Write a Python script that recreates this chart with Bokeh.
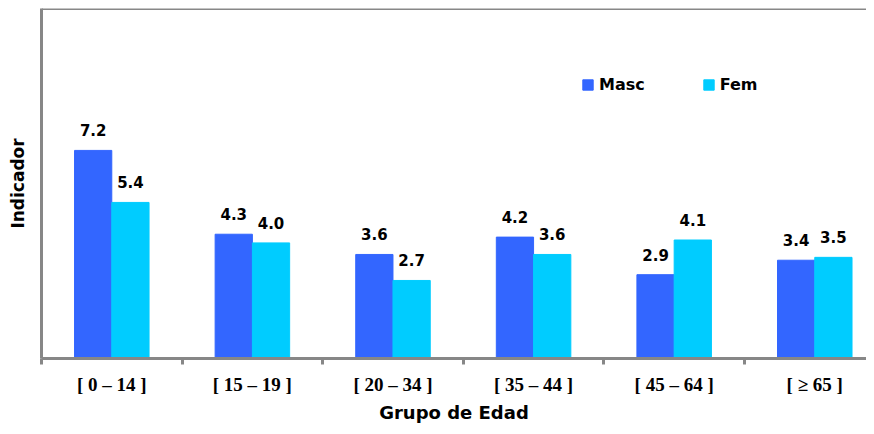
import numpy as np
from bokeh.plotting import figure
from bokeh.models import (Range1d, FixedTicker, Span, Legend, LegendItem,
                          ColumnDataSource)
from bokeh.transform import dodge
from bokeh.core.properties import value
from bokeh.embed import file_html
from bokeh.resources import INLINE

# ---- data ----
categories = ["[ 0 \u2013 14 ]", "[ 15 \u2013 19 ]", "[ 20 \u2013 34 ]",
              "[ 35 \u2013 44 ]", "[ 45 \u2013 64 ]", "[ \u2265 65 ]"]
masc = [7.2, 4.3, 3.6, 4.2, 2.9, 3.4]
fem = [5.4, 4.0, 2.7, 3.6, 4.1, 3.5]

# ---- styling ----
MASC_COLOR = "#3366FF"
FEM_COLOR = "#00CCFF"
AXIS_GRAY = "#878787"
SANS = "DejaVu Sans"
SERIF = "Liberation Serif"
BAR_W = 0.265
Y_END = 12.11
X_END = 5.868

centers = np.arange(len(categories)) + 0.5
source = ColumnDataSource(dict(
    x=centers,
    masc=masc,
    fem=fem,
    masc_lbl=[f"{v:.1f}" for v in masc],
    fem_lbl=[f"{v:.1f}" for v in fem],
))

p = figure(width=866, height=426,
           x_range=Range1d(0, X_END), y_range=Range1d(0, Y_END),
           output_backend="svg", toolbar_location=None,
           min_border_left=41, min_border_right=0,
           min_border_top=8, min_border_bottom=68)
p.outline_line_color = None
p.xgrid.grid_line_color = None
p.ygrid.grid_line_color = None
p.background_fill_color = "white"
p.border_fill_color = "white"

r_m = p.vbar(x=dodge("x", -BAR_W / 2), top="masc", bottom=0, width=BAR_W,
             source=source, fill_color=MASC_COLOR, line_color=MASC_COLOR)
r_f = p.vbar(x=dodge("x", BAR_W / 2), top="fem", bottom=0, width=BAR_W,
             source=source, fill_color=FEM_COLOR, line_color=FEM_COLOR)

for col, lbl, off in (("masc", "masc_lbl", -BAR_W / 2), ("fem", "fem_lbl", BAR_W / 2)):
    p.text(x=dodge("x", off), y=col, text=lbl, source=source,
           text_align="center", text_baseline="alphabetic", y_offset=-20,
           text_font=value(SANS), text_font_style="bold",
           text_font_size="15px", text_color="black")

# top border line
p.add_layout(Span(location=Y_END, dimension="width",
                  line_color=AXIS_GRAY, line_width=3))

# x axis
xa = p.xaxis[0]
xa.ticker = FixedTicker(ticks=list(centers), minor_ticks=list(range(len(categories) + 1)))
xa.major_label_overrides = {float(c): lab for c, lab in zip(centers, categories)}
xa.major_tick_line_color = None
xa.major_tick_out = 6
xa.major_tick_in = 0
xa.minor_tick_line_color = AXIS_GRAY
xa.minor_tick_line_width = 3
xa.minor_tick_out = 6
xa.minor_tick_in = 0
xa.axis_line_color = AXIS_GRAY
xa.axis_line_width = 3
xa.major_label_text_font = SERIF
xa.major_label_text_font_style = "bold"
xa.major_label_text_font_size = "19px"
xa.major_label_text_color = "black"
xa.major_label_standoff = 9
xa.axis_label = "Grupo de Edad"
xa.axis_label_text_font = SANS
xa.axis_label_text_font_style = "bold"
xa.axis_label_text_font_size = "18px"
xa.axis_label_text_color = "black"
xa.axis_label_standoff = 4

# y axis
ya = p.yaxis[0]
ya.ticker = FixedTicker(ticks=[])
ya.major_tick_out = 0
ya.major_tick_in = 0
ya.minor_tick_out = 0
ya.minor_tick_in = 0
ya.major_label_standoff = 0
ya.axis_line_color = AXIS_GRAY
ya.axis_line_width = 3
ya.axis_label = "Indicador"
ya.axis_label_text_font = SANS
ya.axis_label_text_font_style = "bold"
ya.axis_label_text_font_size = "17px"
ya.axis_label_text_color = "black"
ya.axis_label_standoff = 14

legend = Legend(items=[LegendItem(label="Masc", renderers=[r_m]),
                       LegendItem(label="Fem", renderers=[r_f])],
                location=(540, 264), orientation="horizontal",
                spacing=57, glyph_width=13, glyph_height=13,
                label_standoff=5, padding=0, margin=0,
                border_line_color=None, background_fill_alpha=0,
                label_text_font=SANS, label_text_font_style="bold",
                label_text_font_size="16px", label_text_color="black")
p.add_layout(legend)

open("out.html", "w").write(file_html(p, INLINE))
